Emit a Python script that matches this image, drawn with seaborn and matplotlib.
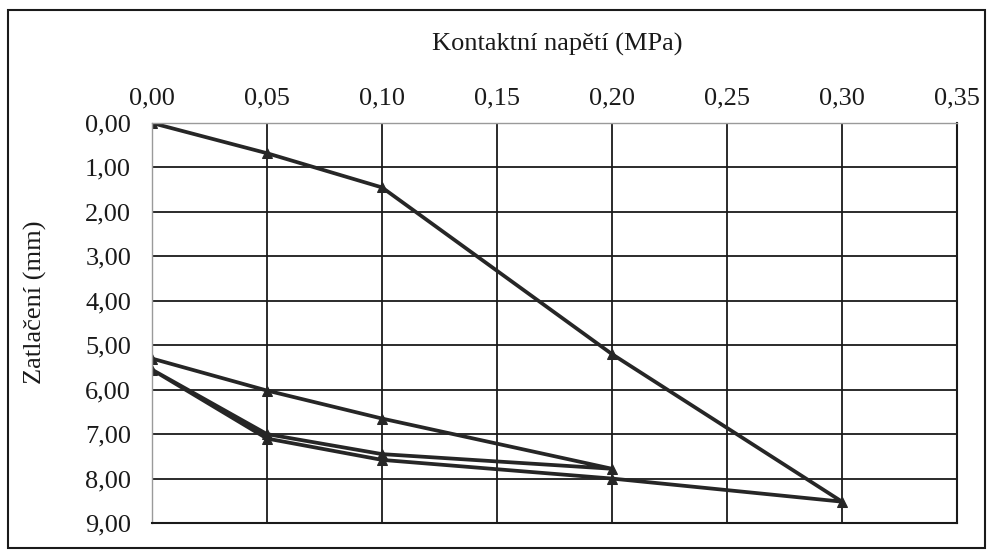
import matplotlib
matplotlib.use("Agg")
import matplotlib.pyplot as plt
import seaborn as sns
import pandas as pd
from matplotlib.patches import Rectangle

# Data (loading -> unloading -> reloading -> unloading path)
stress = [0.00, 0.05, 0.10, 0.20, 0.30, 0.20, 0.10, 0.05, 0.00, 0.05, 0.10, 0.20, 0.10, 0.05, 0.00]
settlement = [0.00, 0.68, 1.45, 5.20, 8.52, 8.00, 7.58, 7.10, 5.55, 7.00, 7.45, 7.78, 6.65, 6.02, 5.30]
x_ticks = [0.00, 0.05, 0.10, 0.15, 0.20, 0.25, 0.30, 0.35]
x_tick_labels = ["0,00", "0,05", "0,10", "0,15", "0,20", "0,25", "0,30", "0,35"]
y_ticks = [0, 1, 2, 3, 4, 5, 6, 7, 8, 9]
y_tick_labels = ["0,00", "1,00", "2,00", "3,00", "4,00", "5,00", "6,00", "7,00", "8,00", "9,00"]

df = pd.DataFrame({"order": range(len(stress)), "stress": stress, "settlement": settlement})

sns.set_theme(style="white")
plt.rcParams["font.family"] = ["Liberation Serif", "DejaVu Serif"]

fig = plt.figure(figsize=(9.9, 5.5), dpi=100)
fig.patch.set_facecolor("white")
ax = fig.add_axes([152/990, 1 - 523/550, (957-152)/990, (523-123)/550])

sns.lineplot(data=df, x="stress", y="settlement", sort=False, estimator=None,
             color="#262626", linewidth=2.7, marker="^", markersize=7,
             markeredgecolor="#262626", ax=ax)

FS = 19
ax.set_xlim(0, 0.35)
ax.set_ylim(9, 0)
ax.xaxis.tick_top()
ax.xaxis.set_label_position("top")
ax.set_xticks(x_ticks)
ax.set_xticklabels(x_tick_labels)
ax.set_yticks(y_ticks)
ax.set_yticklabels(y_tick_labels)
ax.tick_params(axis="x", length=0, pad=9.5, labelsize=FS, colors="#1a1a1a")
ax.tick_params(axis="y", length=0, pad=15, labelsize=FS, colors="#1a1a1a")
ax.set_xlabel("Kontaktní napětí (MPa)", fontsize=FS, color="#1a1a1a")
ax.xaxis.set_label_coords((557 - 152) / (957 - 152), (523 - 51) / (523 - 123))
ax.set_ylabel("Zatlačení (mm)", fontsize=FS, color="#1a1a1a")
ax.yaxis.set_label_coords((47 - 152) / (957 - 152), (523 - 302) / (523 - 123))

ax.grid(True, color="#1a1a1a", linewidth=1.3)
ax.set_axisbelow(True)
for side in ["right", "bottom"]:
    ax.spines[side].set_color("#1a1a1a")
    ax.spines[side].set_linewidth(1.5)
ax.spines["top"].set_color("#9a9a9a")
ax.spines["top"].set_linewidth(1.0)
ax.spines["left"].set_color("#9a9a9a")
ax.spines["left"].set_linewidth(1.0)
# hide grid lines overlapping the spines
ax.get_xgridlines()[0].set_visible(False)
ax.get_ygridlines()[0].set_visible(False)
ax.get_xgridlines()[-1].set_visible(False)
ax.get_ygridlines()[-1].set_visible(False)

fig.patches.append(Rectangle((8/990, 1 - 548/550), (985-8)/990, (548-10)/550,
                             transform=fig.transFigure, fill=False,
                             edgecolor="#1a1a1a", linewidth=1.5))

fig.savefig("out.png", dpi=100)
